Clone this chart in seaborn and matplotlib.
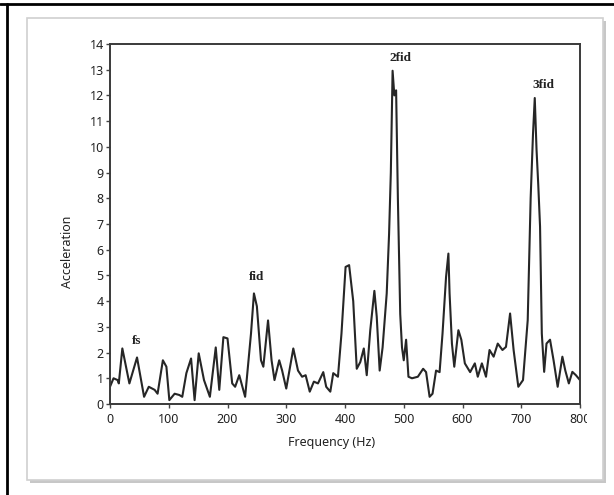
import matplotlib
matplotlib.use("Agg")
import matplotlib.pyplot as plt
import seaborn as sns
import pandas as pd
from matplotlib.patches import Rectangle
from matplotlib.lines import Line2D
from matplotlib.transforms import Bbox, TransformedBbox

# spectrum
freq = [0, 6, 13, 15, 21, 33, 46, 58, 66, 76, 81, 90, 96, 101, 110, 118, 123,
        130, 138, 144, 151, 160, 170, 180, 186, 193, 200, 208, 213, 220, 230,
        240, 245, 250, 257, 261, 269, 275, 280, 288, 293, 300, 312, 320, 327,
        333, 340, 347, 354, 363, 368, 375, 380, 388, 394, 401, 407, 414, 420,
        426, 432, 437, 443, 450, 454, 459, 464, 471, 475, 478, 481, 484, 487,
        490, 494, 497, 500, 504, 508, 514, 524, 533, 538, 544, 549, 555, 561,
        566, 572, 576, 578, 582, 586, 593, 598, 604, 613, 621, 626, 633, 640,
        646, 653, 660, 668, 674, 681, 687, 695, 703, 711, 716, 720, 723, 726,
        729, 732, 735, 739, 743, 749, 755, 762, 770, 775, 781, 787, 793, 800]
accel = [0.67, 1.0, 0.93, 0.8, 2.16, 0.8, 1.81, 0.28, 0.67, 0.55, 0.4, 1.7,
         1.45, 0.15, 0.4, 0.35, 0.28, 1.2, 1.77, 0.15, 1.97, 0.93, 0.28, 2.2,
         0.55, 2.6, 2.55, 0.8, 0.67, 1.12, 0.28, 2.74, 4.3, 3.8, 1.7, 1.45,
         3.25, 1.7, 0.93, 1.7, 1.3, 0.6, 2.16, 1.3, 1.06, 1.12, 0.48, 0.87,
         0.8, 1.24, 0.67, 0.48, 1.2, 1.06, 2.74, 5.33, 5.4, 4.0, 1.37, 1.63,
         2.16, 1.12, 2.87, 4.4, 3.4, 1.3, 2.2, 4.3, 6.6, 9.0, 12.96, 12.0,
         12.2, 8.0, 3.5, 2.2, 1.7, 2.5, 1.06, 1.0, 1.06, 1.37, 1.24, 0.28,
         0.4, 1.3, 1.24, 2.74, 4.94, 5.85, 4.3, 2.35, 1.45, 2.87, 2.5, 1.58,
         1.24, 1.58, 1.06, 1.58, 1.06, 2.1, 1.84, 2.35, 2.1, 2.22, 3.52, 2.1,
         0.67, 0.93, 3.26, 8.0, 10.5, 11.9, 9.9, 8.5, 6.9, 2.74, 1.25, 2.35,
         2.5, 1.7, 0.67, 1.84, 1.3, 0.8, 1.25, 1.12, 0.93]

peak_labels = ["fs", "fid", "2fid", "3fid"]
peak_x = [46, 250, 494, 737]
peak_y = [2.46, 4.94, 13.46, 12.4]

x_ticks = [0, 100, 200, 300, 400, 500, 600, 700, 800]
y_ticks = list(range(0, 15))

df = pd.DataFrame({"Frequency (Hz)": freq, "Acceleration": accel})

sns.set_style("ticks")
plt.rcParams["font.family"] = ["Noto Sans", "DejaVu Sans"]

W, H = 614, 495
fig = plt.figure(figsize=(W / 100, H / 100), dpi=100)
fig.patch.set_facecolor("white")

# outer black frame (top and left only) and the shadowed white panel
fig.add_artist(Line2D([0, 1], [1 - 4 / H, 1 - 4 / H], transform=fig.transFigure,
                      color="black", lw=2))
fig.add_artist(Line2D([7 / W, 7 / W], [0, 1 - 4 / H], transform=fig.transFigure,
                      color="black", lw=2))
fig.add_artist(Rectangle((30 / W, 1 - 483 / H), 576 / W, 462 / H,
                         transform=fig.transFigure, facecolor="#9a9a9a",
                         edgecolor="none", alpha=0.55, zorder=0))
fig.add_artist(Rectangle((27 / W, 1 - 480 / H), 576 / W, 462 / H,
                         transform=fig.transFigure, facecolor="white",
                         edgecolor="#d0d0d0", lw=1.2, zorder=0))

ax = fig.add_axes([110 / W, 1 - 404 / H, 470 / W, 360 / H])
ax.set_zorder(2)
sns.lineplot(data=df, x="Frequency (Hz)", y="Acceleration", ax=ax,
             color="#262626", lw=1.5, sort=False)

ax.set_xlim(0, 800)
ax.set_ylim(0, 14)
ax.set_xticks(x_ticks)
ax.set_yticks(y_ticks)
ax.tick_params(axis="both", direction="out", length=3, width=1,
               color="#444444", labelsize=9, labelcolor="#222222")
ax.tick_params(axis="x", pad=3.5)
ax.tick_params(axis="y", pad=1.5)
for sp in ax.spines.values():
    sp.set_color("#3a3a3a")
    sp.set_linewidth(1.4)

ax.set_xlabel("Frequency (Hz)", fontsize=9, color="#222222")
ax.set_ylabel("Acceleration", fontsize=9, color="#222222")
ax.xaxis.set_label_coords(0.472, -0.088)
ax.yaxis.set_label_coords(-0.076, 0.422)

for lab, px, py in zip(peak_labels, peak_x, peak_y):
    ax.text(px, py, lab, ha="center", va="center", fontsize=9.5,
            family="Liberation Serif", fontweight="bold", color="#222222")

# last tick label is cut by the graph frame in the original
clip = TransformedBbox(Bbox([[0, 0], [587 / W, 1]]), fig.transFigure)
last = ax.get_xticklabels()[-1]
last.set_clip_on(True)
last.set_clip_box(clip)

fig.savefig("out.png", dpi=100)
